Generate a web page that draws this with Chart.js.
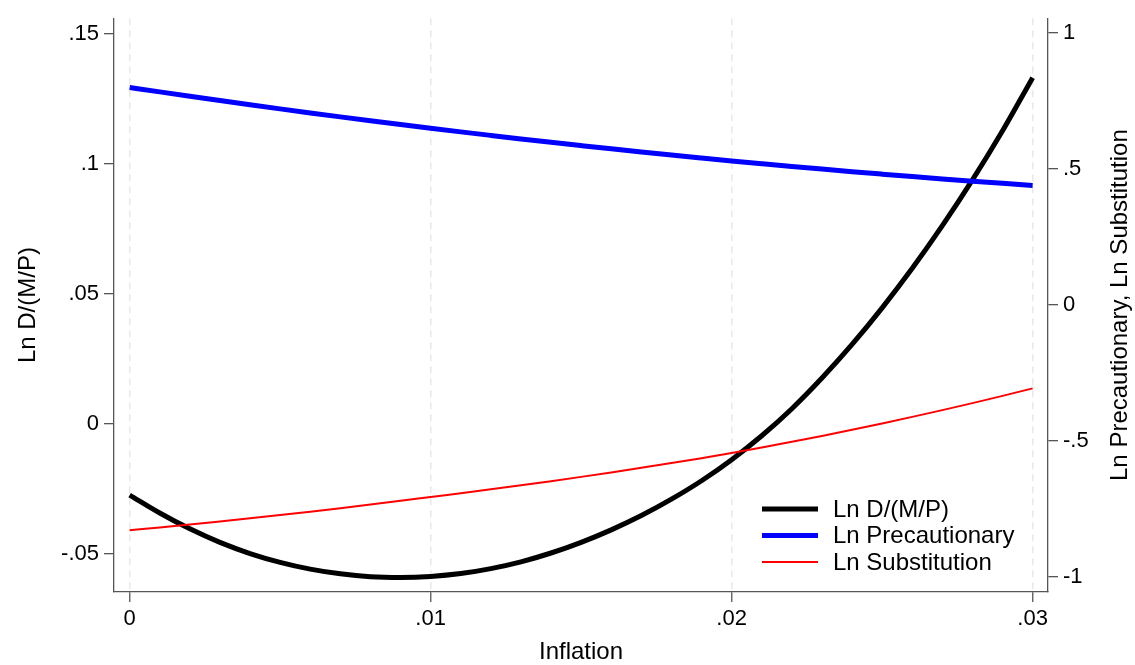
<!DOCTYPE html>
<html lang="en">
<head>
<meta charset="utf-8">
<title>Ln D/(M/P)</title>
<script src="https://cdn.jsdelivr.net/npm/chart.js@4.4.1/dist/chart.umd.min.js"></script>
<style>
  html, body { margin: 0; padding: 0; background: #fff; }
  #grafico { display: block; }
</style>
</head>
<body>
<canvas id="grafico" width="1135" height="665"></canvas>
<script>
// Datos
const inflacion = [0, 0.001, 0.002, 0.003, 0.004, 0.005, 0.006, 0.007, 0.008, 0.009,
    0.010, 0.011, 0.012, 0.013, 0.014, 0.015, 0.016, 0.017, 0.018, 0.019,
    0.020, 0.021, 0.022, 0.023, 0.024, 0.025, 0.026, 0.027, 0.028, 0.029, 0.030];
const lnDemanda = [-0.0274, -0.0343, -0.0404, -0.0456, -0.0499, -0.0533, -0.0559, -0.0577, -0.0588, -0.0591,
    -0.0587, -0.0576, -0.0557, -0.0531, -0.0497, -0.0456, -0.0408, -0.0353, -0.0290, -0.0219,
    -0.0138, -0.0046, 0.0058, 0.0176, 0.0305, 0.0446, 0.0598, 0.0762, 0.0938, 0.1127, 0.1331];
const lnPrecaucion = [0.799, 0.7827, 0.7666, 0.7508, 0.7354, 0.7202, 0.7054, 0.6908, 0.6766, 0.6626,
    0.6490, 0.6356, 0.6226, 0.6098, 0.5973, 0.5852, 0.5733, 0.5618, 0.5505, 0.5396,
    0.5289, 0.5186, 0.5085, 0.4988, 0.4893, 0.4802, 0.4713, 0.4627, 0.4545, 0.4465, 0.4389];
const lnSustitucion = [-0.829, -0.8185, -0.8077, -0.7964, -0.7848, -0.7728, -0.7604, -0.7476, -0.7343, -0.7206,
    -0.7064, -0.6926, -0.6783, -0.6636, -0.6483, -0.6325, -0.6162, -0.5993, -0.5818, -0.5637,
    -0.5450, -0.5247, -0.5036, -0.4819, -0.4594, -0.4361, -0.4120, -0.3871, -0.3614, -0.3348, -0.3072];
const ticksX = [0, 0.01, 0.02, 0.03];
const ticksIzq = [-0.05, 0, 0.05, 0.1, 0.15];
const ticksDer = [-1, -0.5, 0, 0.5, 1];
const tituloDer = 'Ln Precautionary, Ln Substitution';

const fuente = '"Liberation Sans", Arial, Helvetica, sans-serif';

// Etiquetas al estilo Stata: ".05" en vez de "0.05"
function etiqueta(v) {
    const s = String(Math.round(v * 1000) / 1000);
    return s.replace(/^(-?)0\./, '$1.');
}

function puntos(serie) {
    return inflacion.map((x, i) => ({ x: x, y: serie[i] }));
}

// Leyenda dentro del área (abajo a la derecha) y título del eje derecho leído de abajo hacia arriba
const extras = {
    id: 'extras',
    afterDraw(chart) {
        const ctx = chart.ctx;
        const area = chart.chartArea;
        const x0 = area.right - 286;
        const y0 = area.bottom - 83;
        ctx.save();
        ctx.font = '24px ' + fuente;
        ctx.textBaseline = 'middle';
        ctx.fillStyle = '#000';
        chart.data.datasets.forEach((ds, i) => {
            const y = y0 + i * 26.5;
            ctx.beginPath();
            ctx.lineWidth = ds.borderWidth;
            ctx.strokeStyle = ds.borderColor;
            ctx.moveTo(x0, y);
            ctx.lineTo(x0 + 56, y);
            ctx.stroke();
            ctx.fillText(ds.label, x0 + 71, y + 1);
        });

        const eje = chart.scales.yDer;
        ctx.translate(eje.right - 15, (area.top + area.bottom) / 2);
        ctx.rotate(-Math.PI / 2);
        ctx.textAlign = 'center';
        ctx.fillText(tituloDer, 0, 0);
        ctx.restore();
    }
};

const ejeColor = '#555';

new Chart(document.getElementById('grafico'), {
    type: 'line',
    data: {
        datasets: [{
            label: 'Ln D/(M/P)',
            data: puntos(lnDemanda),
            yAxisID: 'yIzq',
            borderColor: '#000000',
            borderWidth: 5,
            order: 2
        }, {
            label: 'Ln Precautionary',
            data: puntos(lnPrecaucion),
            yAxisID: 'yDer',
            borderColor: '#0000ff',
            borderWidth: 5,
            order: 1
        }, {
            label: 'Ln Substitution',
            data: puntos(lnSustitucion),
            yAxisID: 'yDer',
            borderColor: '#ff0000',
            borderWidth: 2,
            order: 0
        }]
    },
    options: {
        responsive: false,
        animation: false,
        layout: { padding: { top: 13, left: 0, right: 0, bottom: 0 } },
        elements: {
            point: { radius: 0 },
            line: { fill: false, cubicInterpolationMode: 'monotone', borderCapStyle: 'butt' }
        },
        plugins: {
            legend: { display: false },
            tooltip: { enabled: false }
        },
        scales: {
            x: {
                type: 'linear',
                min: -0.00052,
                max: 0.03051,
                afterBuildTicks: s => { s.ticks = ticksX.map(v => ({ value: v })); },
                afterFit: s => { s.height = 73; },
                grid: { color: '#e8e8e8', lineWidth: 1.5, tickLength: 10, tickColor: ejeColor, tickWidth: 1.3 },
                border: { display: true, color: ejeColor, width: 1.3, dash: [7, 5] },
                ticks: {
                    callback: v => etiqueta(v),
                    color: '#000',
                    font: { family: fuente, size: 22 },
                    padding: 4,
                    maxRotation: 0,
                    autoSkip: false
                },
                title: {
                    display: true,
                    text: 'Inflation',
                    color: '#000',
                    font: { family: fuente, size: 24, lineHeight: 1 },
                    padding: { top: 0, bottom: 1 }
                }
            },
            yIzq: {
                position: 'left',
                min: -0.0647,
                max: 0.156,
                afterBuildTicks: s => { s.ticks = ticksIzq.map(v => ({ value: v })); },
                afterFit: s => { s.width = 114; },
                grid: { drawOnChartArea: false, tickLength: 10, color: ejeColor, lineWidth: 1.3 },
                border: { display: true, color: ejeColor, width: 1.3 },
                ticks: {
                    callback: v => etiqueta(v),
                    color: '#000',
                    font: { family: fuente, size: 22 },
                    padding: 5
                },
                title: {
                    display: true,
                    text: 'Ln D/(M/P)',
                    color: '#000',
                    font: { family: fuente, size: 24, lineHeight: 1 },
                    padding: { top: 16, bottom: 0 }
                }
            },
            yDer: {
                position: 'right',
                min: -1.0557,
                max: 1.0535,
                afterBuildTicks: s => { s.ticks = ticksDer.map(v => ({ value: v })); },
                afterFit: s => { s.width = 87; },
                grid: { drawOnChartArea: false, tickLength: 10, color: ejeColor, lineWidth: 1.3 },
                border: { display: true, color: ejeColor, width: 1.3 },
                ticks: {
                    callback: v => etiqueta(v),
                    color: '#000',
                    font: { family: fuente, size: 22 },
                    padding: 5
                }
            }
        }
    },
    plugins: [extras]
});
</script>
</body>
</html>
